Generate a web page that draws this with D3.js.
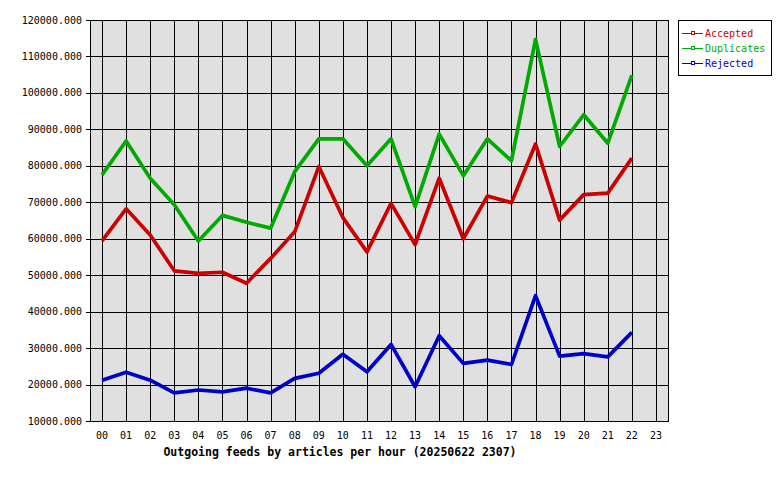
<!DOCTYPE html>
<html>
<head>
<meta charset="utf-8">
<script src="https://cdn.jsdelivr.net/npm/d3@7/dist/d3.min.js"></script>
<style>
  body { margin: 0; background: #fff; }
  svg { display: block; }
  text { font-family: "DejaVu Sans Mono", monospace; }
</style>
</head>
<body>
<div id="chart"></div>
<script>
// hours 00..23, values only read up to 22
const hours = d3.range(24).map(h => String(h).padStart(2, "0"));
const accepted = [59400, 68200, 61000, 51200, 50500, 50800, 47800, 54600, 61900, 79800, 65800, 56400,
                  69700, 58400, 76600, 60000, 71700, 69900, 86000, 65100, 72100, 72500, 82100];
const duplicates = [77500, 86800, 76600, 69300, 59400, 66400, 64500, 62900, 78400, 87400, 87400, 80000,
                    87400, 68800, 88700, 77300, 87400, 81400, 114700, 85300, 94000, 86200, 104900];
const rejected = [21200, 23400, 21200, 17700, 18500, 18000, 19000, 17700, 21700, 23100, 28300, 23500,
                  31000, 19400, 33400, 25800, 26700, 25500, 44400, 27800, 28500, 27600, 34300];
const yTicks = d3.range(10000, 120001, 10000);

const seriesNames = ["Accepted", "Duplicates", "Rejected"];
const seriesColors = ["#cc0000", "#00aa00", "#0000cc"];
const seriesValues = [accepted, duplicates, rejected];

const width = 780, height = 480;
const plot = { left: 90, right: 668, top: 20, bottom: 421 };

const svg = d3.select("#chart").append("svg")
    .attr("width", width)
    .attr("height", height);

const x = d3.scalePoint()
    .domain(hours)
    .range([plot.left, plot.right])
    .padding(0.5);

const y = d3.scaleLinear()
    .domain([10000, 120000])
    .range([plot.bottom, plot.top]);

// plot background
svg.append("rect")
    .attr("x", plot.left)
    .attr("y", plot.top)
    .attr("width", plot.right - plot.left)
    .attr("height", plot.bottom - plot.top)
    .attr("fill", "#e0e0e0");

// grid lines
const grid = svg.append("g").attr("shape-rendering", "crispEdges");
grid.selectAll(".hgrid")
    .data(yTicks)
    .join("line")
    .attr("x1", plot.left - 4)
    .attr("x2", plot.right)
    .attr("y1", d => Math.round(y(d)) + 0.5)
    .attr("y2", d => Math.round(y(d)) + 0.5)
    .attr("stroke", "#000");
grid.selectAll(".vgrid")
    .data(hours)
    .join("line")
    .attr("x1", d => Math.round(x(d)) + 0.5)
    .attr("x2", d => Math.round(x(d)) + 0.5)
    .attr("y1", plot.top)
    .attr("y2", plot.bottom)
    .attr("stroke", "#000");

// frame
svg.append("rect")
    .attr("x", plot.left + 0.5)
    .attr("y", plot.top + 0.5)
    .attr("width", plot.right - plot.left)
    .attr("height", plot.bottom - plot.top)
    .attr("fill", "none")
    .attr("stroke", "#000")
    .attr("shape-rendering", "crispEdges");

// y labels
svg.append("g")
    .selectAll("text")
    .data(yTicks)
    .join("text")
    .attr("x", 82)
    .attr("y", d => y(d))
    .attr("dy", "0.35em")
    .attr("text-anchor", "end")
    .attr("font-size", "10px")
    .attr("fill", "#000")
    .text(d => d3.format(".3f")(d));

// x labels
svg.append("g")
    .selectAll("text")
    .data(hours)
    .join("text")
    .attr("x", d => x(d))
    .attr("y", 435)
    .attr("dy", "0.35em")
    .attr("text-anchor", "middle")
    .attr("font-size", "10px")
    .attr("fill", "#000")
    .text(d => d);

// axis title
svg.append("text")
    .attr("x", 340)
    .attr("y", 452)
    .attr("dy", "0.35em")
    .attr("text-anchor", "middle")
    .attr("font-size", "11.5px")
    .attr("font-weight", "bold")
    .attr("fill", "#000")
    .text("Outgoing feeds by articles per hour (20250622 2307)");

// lines
const line = d3.line()
    .x((d, i) => x(hours[i]))
    .y(d => y(d));

svg.append("g")
    .selectAll("path")
    .data(seriesValues)
    .join("path")
    .attr("d", d => line(d))
    .attr("fill", "none")
    .attr("stroke", (d, i) => seriesColors[i])
    .attr("stroke-width", 3.7)
    .attr("stroke-linejoin", "round");

// legend
const legend = svg.append("g");
legend.append("rect")
    .attr("x", 678.5)
    .attr("y", 20.5)
    .attr("width", 93)
    .attr("height", 55)
    .attr("fill", "#fff")
    .attr("stroke", "#000")
    .attr("shape-rendering", "crispEdges");

const rows = legend.selectAll(".row")
    .data(seriesNames)
    .join("g")
    .attr("transform", (d, i) => `translate(0,${33 + i * 15})`);

rows.append("line")
    .attr("x1", 682)
    .attr("x2", 703)
    .attr("y1", 0.5)
    .attr("y2", 0.5)
    .attr("stroke", (d, i) => seriesColors[i])
    .attr("shape-rendering", "crispEdges");
rows.append("rect")
    .attr("x", 691.5)
    .attr("y", -1.5)
    .attr("width", 3)
    .attr("height", 3)
    .attr("fill", "#fff")
    .attr("stroke", (d, i) => seriesColors[i])
    .attr("shape-rendering", "crispEdges");
rows.append("text")
    .attr("x", 705)
    .attr("y", 0)
    .attr("dy", "0.35em")
    .attr("font-size", "10px")
    .attr("fill", (d, i) => seriesColors[i])
    .text(d => d);
</script>
</body>
</html>
